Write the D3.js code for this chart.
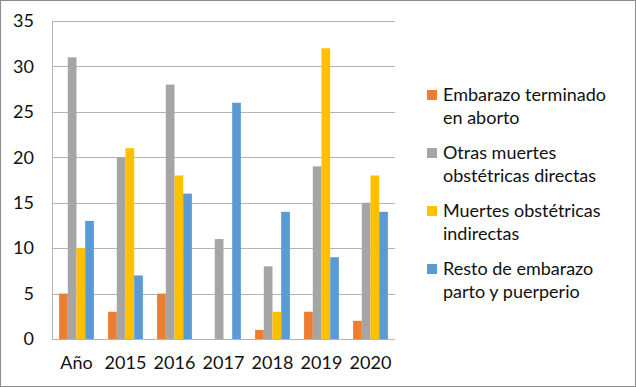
<!DOCTYPE html>
<html>
<head>
<meta charset="utf-8">
<script src="https://cdn.jsdelivr.net/npm/d3@7"></script>
<style>
  body { margin: 0; background: #fff; }
  svg { display: block; font-family: Lato, "Open Sans", sans-serif; }
</style>
</head>
<body>
<div id="chart"></div>
<script>
var categories = ["Año", "2015", "2016", "2017", "2018", "2019", "2020"];
var seriesNames = [
  ["Embarazo terminado", "en aborto"],
  ["Otras muertes", "obstétricas directas"],
  ["Muertes obstétricas", "indirectas"],
  ["Resto de embarazo", "parto y puerperio"]
];
var aborto     = [5, 3, 5, 0, 1, 3, 2];
var directas   = [31, 20, 28, 11, 8, 19, 15];
var indirectas = [10, 21, 18, 0, 3, 32, 18];
var resto      = [13, 7, 16, 26, 14, 9, 14];
var yTicks = [0, 5, 10, 15, 20, 25, 30, 35];
var colors = ["#ED7D31", "#A5A5A5", "#FFC000", "#5B9BD5"];

var series = [aborto, directas, indirectas, resto];

var w = 636;
var h = 387;
var margin = {top: 21, left: 52, right: 241, bottom: 48};

var svg = d3.select("#chart")
            .append("svg")
            .attr("width", w)
            .attr("height", h);

// outer frame
svg.append("rect")
   .attr("x", 0.5).attr("y", 0.5)
   .attr("width", w - 1).attr("height", h - 1)
   .attr("fill", "#fff")
   .attr("stroke", "#8c8c8c");

var xScale = d3.scaleBand()
               .domain(categories)
               .range([margin.left, w - margin.right])
               .paddingInner(0.29)
               .paddingOuter(0.145);

var inner = d3.scaleBand()
              .domain(d3.range(series.length))
              .range([0, xScale.bandwidth()]);

var yScale = d3.scaleLinear()
               .domain([0, 35])
               .range([h - margin.bottom, margin.top]);

// gridlines
svg.append("g")
   .selectAll("line")
   .data(yTicks)
   .enter()
   .append("line")
   .attr("x1", margin.left)
   .attr("x2", w - margin.right)
   .attr("y1", function(d) { return Math.round(yScale(d)) + 0.5; })
   .attr("y2", function(d) { return Math.round(yScale(d)) + 0.5; })
   .attr("stroke", "#b4b4b4");

// left axis line
svg.append("line")
   .attr("x1", margin.left + 0.5).attr("x2", margin.left + 0.5)
   .attr("y1", margin.top).attr("y2", h - margin.bottom)
   .attr("stroke", "#b4b4b4");

// y tick labels
svg.append("g")
   .selectAll("text")
   .data(yTicks)
   .enter()
   .append("text")
   .attr("x", 34)
   .attr("y", function(d) { return yScale(d); })
   .attr("dy", "0.35em")
   .attr("text-anchor", "end")
   .attr("font-size", 18)
   .attr("fill", "#111")
   .text(function(d) { return d; });

// bars
series.forEach(function(vals, i) {
  svg.append("g")
     .attr("fill", colors[i])
     .selectAll("rect")
     .data(vals)
     .enter()
     .append("rect")
     .attr("x", function(d, j) { return xScale(categories[j]) + inner(i); })
     .attr("y", function(d) { return yScale(d); })
     .attr("width", inner.bandwidth())
     .attr("height", function(d) { return yScale(0) - yScale(d); });
});

// x labels
svg.append("g")
   .selectAll("text")
   .data(categories)
   .enter()
   .append("text")
   .attr("x", function(d) { return xScale(d) + xScale.bandwidth() / 2; })
   .attr("y", 369)
   .attr("text-anchor", "middle")
   .attr("font-size", 18)
   .attr("fill", "#111")
   .text(function(d) { return d; });

// legend
var legend = svg.append("g")
                .selectAll("g")
                .data(seriesNames)
                .enter()
                .append("g")
                .attr("transform", function(d, i) { return "translate(427," + (101 + i * 58) + ")"; });

legend.append("rect")
      .attr("x", 0).attr("y", -11)
      .attr("width", 10).attr("height", 10)
      .attr("fill", function(d, i) { return colors[i]; });

legend.append("text")
      .attr("x", 16)
      .attr("font-size", 18)
      .attr("fill", "#111")
      .selectAll("tspan")
      .data(function(d) { return d; })
      .enter()
      .append("tspan")
      .attr("x", 16)
      .attr("y", function(d, k) { return k * 23; })
      .text(function(d) { return d; });
</script>
</body>
</html>
